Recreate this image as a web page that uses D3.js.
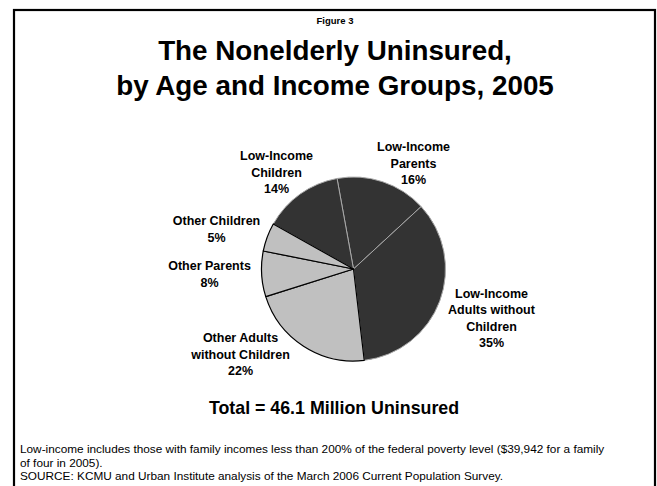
<!DOCTYPE html>
<html>
<head>
<meta charset="utf-8">
<script src="https://cdn.jsdelivr.net/npm/d3@7"></script>
<style>
  html, body { margin: 0; padding: 0; background: #fff; }
  svg { display: block; font-family: "Liberation Sans", Arial, sans-serif; }
</style>
</head>
<body>
<svg id="chart" width="657" height="486"></svg>
<script>
// Uninsured nonelderly by age and income group, 2005 (share of 46.1 million)
const categories = [
  "Low-Income Parents",
  "Low-Income Adults without Children",
  "Other Adults without Children",
  "Other Parents",
  "Other Children",
  "Low-Income Children"
];
const shares = [16, 35, 22, 8, 5, 14];
const incomeGroup = ["low", "low", "other", "other", "other", "low"];
const labelLines = [
  ["Low-Income", "Parents"],
  ["Low-Income", "Adults without", "Children"],
  ["Other Adults", "without Children"],
  ["Other Parents"],
  ["Other Children"],
  ["Low-Income", "Children"]
];

const figureNo = "Figure 3";
const titleLines = ["The Nonelderly Uninsured,", "by Age and Income Groups, 2005"];
const totalText = "Total = 46.1 Million Uninsured";
const noteLines = [
  "Low-income includes those with family incomes less than 200% of the federal poverty level ($39,942 for a family",
  "of four in 2005).",
  "SOURCE: KCMU and Urban Institute analysis of the March 2006 Current Population Survey."
];

// Label block placement, as offsets from the pie centre
const labelOffset = [
  [60, -106], [138, 49], [-113, 85], [-144, 5], [-137, -40], [-77, -97]
];

const svg = d3.select("#chart");

// slide frame
svg.append("rect")
  .attr("x", 14).attr("y", 10)
  .attr("width", 641).attr("height", 500)
  .attr("fill", "none").attr("stroke", "#000").attr("stroke-width", 2.2);

// headings
svg.append("text")
  .attr("x", 335).attr("y", 24)
  .attr("text-anchor", "middle")
  .attr("font-size", 9.5).attr("font-weight", "bold")
  .text(figureNo);

svg.selectAll("text.title").data(titleLines).join("text")
  .attr("class", "title")
  .attr("x", 335).attr("y", (d, i) => 60 + i * 34.5)
  .attr("text-anchor", "middle")
  .attr("font-size", 27.8).attr("font-weight", "bold")
  .text(d => d);

// pie
const cx = 353.5, cy = 269, R = 92;
const color = d3.scaleOrdinal().domain(["low", "other"]).range(["#333333", "#c0c0c0"]);
const edge = d3.scaleOrdinal().domain(["low", "other"]).range(["#a8a8a8", "#000000"]);

const start = -10.3 * Math.PI / 180;
const pie = d3.pie().sort(null).value(d => d.v)
  .startAngle(start).endAngle(start + 2 * Math.PI);
const rows = categories.map((c, i) => ({ c, v: shares[i], g: incomeGroup[i], lines: labelLines[i], off: labelOffset[i] }));
const arcs = pie(rows);
const arc = d3.arc().innerRadius(0).outerRadius(R);

const g = svg.append("g").attr("transform", `translate(${cx},${cy})`);
// dark slices first so the black outlines of the light slices sit on top
const ordered = arcs.filter(d => d.data.g === "low").concat(arcs.filter(d => d.data.g !== "low"));
g.selectAll("path").data(ordered).join("path")
  .attr("d", arc)
  .attr("fill", d => color(d.data.g))
  .attr("stroke", d => edge(d.data.g))
  .attr("stroke-width", d => d.data.g === "low" ? 1 : 1.2)
  .attr("stroke-linejoin", "round");

// slice labels
const lh = 16.5;
const lab = g.selectAll("text.lab").data(arcs).join("text")
  .attr("class", "lab")
  .attr("text-anchor", "middle")
  .attr("font-size", 12.5).attr("font-weight", "bold")
  .attr("fill", "#000");
lab.each(function (d) {
  const lines = d.data.lines.concat([d.data.v + "%"]);
  const n = lines.length;
  const t = d3.select(this);
  lines.forEach((s, i) => {
    t.append("tspan")
      .attr("x", d.data.off[0])
      .attr("y", d.data.off[1] + (i - (n - 1) / 2) * lh + 4.5)
      .text(s);
  });
});

// total
svg.append("text")
  .attr("x", 334).attr("y", 414)
  .attr("text-anchor", "middle")
  .attr("font-size", 17.8).attr("font-weight", "bold")
  .text(totalText);

// notes
svg.selectAll("text.note").data(noteLines).join("text")
  .attr("class", "note")
  .attr("x", 20).attr("y", (d, i) => 453 + i * 13.5)
  .attr("font-size", 11.8)
  .text(d => d);
</script>
</body>
</html>
